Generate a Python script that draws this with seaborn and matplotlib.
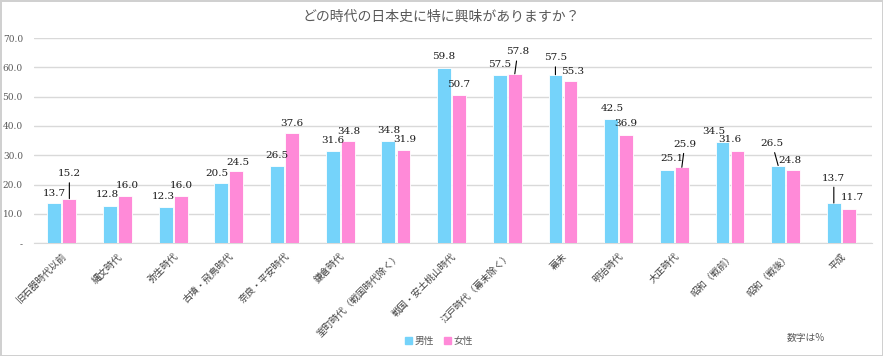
import matplotlib
matplotlib.use("Agg")
import matplotlib.pyplot as plt
import seaborn as sns
import pandas as pd
from matplotlib.patches import Patch

# data
eras = ['旧石器時代以前', '縄文時代', '弥生時代', '古墳・飛鳥時代', '奈良・平安時代', '鎌倉時代',
        '室町時代（戦国時代除く）', '戦国・安土桃山時代', '江戸時代（幕末除く）', '幕末', '明治時代',
        '大正時代', '昭和（戦前）', '昭和（戦後）', '平成']
male = [13.7, 12.8, 12.3, 20.5, 26.5, 31.6, 34.8, 59.8, 57.5, 57.5, 42.5, 25.1, 34.5, 26.5, 13.7]
female = [15.2, 16.0, 16.0, 24.5, 37.6, 34.8, 31.9, 50.7, 57.8, 55.3, 36.9, 25.9, 31.6, 24.8, 11.7]
series = ['男性', '女性']
yticks = [0, 10, 20, 30, 40, 50, 60, 70]
yticklabels = ['-', '10.0', '20.0', '30.0', '40.0', '50.0', '60.0', '70.0']

# label offsets in pixels (dx, dy, leader line)
male_off = [(0, 10, 0), (-3, 11, 0), (-2, 11, 0), (-4, 10, 0), (0, 10, 0), (0, 10, 0), (0, 11, 0),
            (0, 11, 0), (0, 10, 0), (0, 17, 1), (1, 10, 0), (5, 11, 0), (-9, 11, 0), (-6, 22, 1), (0, 25, 1)]
female_off = [(0, 25, 1), (2, 11, 0), (1, 11, 0), (1, 9, 0), (0, 10, 0), (1, 10, 0), (1, 10, 0),
              (0, 10, 0), (3, 22, 1), (2, 10, 0), (0, 12, 0), (3, 23, 1), (-8, 11, 0), (-3, 10, 0), (3, 11, 0)]

df = pd.DataFrame({'era': eras * 2,
                   'sex': [series[0]] * len(eras) + [series[1]] * len(eras),
                   'value': male + female})

colors = ['#75D3FA', '#FF8AD8']
jp = ['Noto Sans CJK JP', 'DejaVu Sans']

sns.set_style('white')
plt.rcParams['font.family'] = jp

fig = plt.figure(figsize=(8.83, 3.56), dpi=100)
fig.patch.set_edgecolor('#d0d0d0')
fig.patch.set_linewidth(2)
ax = fig.add_axes([0.0385, 0.317, 0.949, 0.576])

sns.barplot(data=df, x='era', y='value', hue='sex', palette=colors, saturation=1, width=0.54, gap=0.08,
            edgecolor='white', linewidth=0.6, legend=False, ax=ax, zorder=3)

ax.set_ylim(0, 70)
ax.set_xlim(-0.5, 14.55)
ax.set_yticks(yticks)
ax.set_yticklabels(yticklabels, family='DejaVu Serif', fontsize=6.5, color='#595959')
ax.yaxis.grid(True, color='#d9d9d9', linewidth=1, zorder=0)
ax.tick_params(axis='y', length=0, pad=8)
ax.tick_params(axis='x', length=0, pad=6)
ax.set_xticks(range(len(eras)))
ax.set_xticklabels(eras, rotation=45, ha='right', rotation_mode='anchor', fontsize=6.8, color='#404040')
ax.set_xlabel('')
ax.set_ylabel('')
for s in ['top', 'right', 'left']:
    ax.spines[s].set_visible(False)
ax.spines['bottom'].set_color('#d9d9d9')

bw = 0.135
for vals, offs, sign in [(male, male_off, -1), (female, female_off, 1)]:
    for i, (v, (dx, dy, lead)) in enumerate(zip(vals, offs)):
        xb = i + sign * bw
        props = None
        if lead:
            props = dict(arrowstyle='-', color='black', lw=0.8, shrinkA=1, shrinkB=0)
        ax.annotate(f'{v:.1f}', xy=(xb, v), xytext=(dx, dy), textcoords='offset pixels',
                    ha='center', va='center', fontsize=7.5,
                    family='DejaVu Serif', color='#1a1a1a', arrowprops=props, zorder=5)

fig.text(0.5, 0.952, 'どの時代の日本史に特に興味がありますか？', ha='center', va='center',
         fontsize=10, color='#595959')

handles = [Patch(color=c, label=s) for c, s in zip(colors, series)]
fig.legend(handles=handles, loc='center', bbox_to_anchor=(0.497, 0.042), ncol=2, frameon=False,
           fontsize=7, handlelength=0.7, handleheight=0.7, handletextpad=0.3, columnspacing=1.0,
           labelcolor='#595959')
fig.text(0.913, 0.05, '数字は%', ha='center', va='center', fontsize=7, color='#595959')

fig.savefig('out.png', dpi=100)
